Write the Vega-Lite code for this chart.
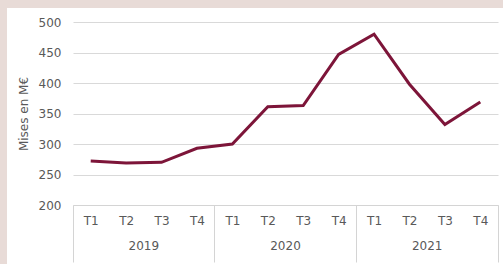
{
  "$schema": "https://vega.github.io/schema/vega-lite/v6.json",
  "width": 496,
  "height": 256,
  "autosize": {"type": "none"},
  "padding": {"left": 7, "top": 8, "right": 0, "bottom": 0},
  "background": "#e8dbd7",
  "config": {
    "view": {"fill": "white", "stroke": null},
    "font": "DejaVu Sans",
    "axis": {"labelFont": "DejaVu Sans", "titleFont": "DejaVu Sans", "labelColor": "#595959", "titleColor": "#595959", "labelFontSize": 12, "titleFontSize": 12, "titleFontWeight": "normal"}
  },
  "data": {
    "values": [
      {"q": "2019-T1", "annee": "2019", "v": 272},
      {"q": "2019-T2", "annee": "2019", "v": 269},
      {"q": "2019-T3", "annee": "2019", "v": 270},
      {"q": "2019-T4", "annee": "2019", "v": 293},
      {"q": "2020-T1", "annee": "2020", "v": 300},
      {"q": "2020-T2", "annee": "2020", "v": 361},
      {"q": "2020-T3", "annee": "2020", "v": 363},
      {"q": "2020-T4", "annee": "2020", "v": 447},
      {"q": "2021-T1", "annee": "2021", "v": 480},
      {"q": "2021-T2", "annee": "2021", "v": 398},
      {"q": "2021-T3", "annee": "2021", "v": 332},
      {"q": "2021-T4", "annee": "2021", "v": 369}
    ]
  },
  "layer": [
    {
      "mark": {"type": "point", "opacity": 0},
      "encoding": {
        "x": {
          "field": "annee", "type": "ordinal",
          "scale": {"type": "band", "range": [66, 491], "paddingInner": 0, "paddingOuter": 0},
          "axis": {
            "orient": "bottom", "offset": -59, "title": null, "domain": false, "grid": false,
            "ticks": true, "bandPosition": 1, "tickExtra": true, "tickSize": 57, "tickColor": "#d4d4d4", "tickWidth": 1,
            "labelPadding": -22, "labelAngle": 0
          }
        },
        "y": {
          "field": "v", "type": "quantitative",
          "scale": {"domain": [200, 500], "range": [197, 14], "zero": false, "nice": false}
        }
      }
    },
    {
      "mark": {"type": "line", "color": "#7d1539", "strokeWidth": 3},
      "encoding": {
        "x": {
          "field": "q", "type": "ordinal",
          "scale": {"type": "point", "range": [66, 491], "padding": 0.5},
          "axis": {
            "orient": "bottom", "offset": -59, "title": null, "grid": false,
            "domain": true, "domainColor": "#d4d4d4", "domainWidth": 1,
            "ticks": false, "tickSize": 0, "labelPadding": 10, "labelAngle": 0,
            "labelExpr": "slice(datum.value, 5)"
          }
        },
        "y": {
          "field": "v", "type": "quantitative",
          "scale": {"domain": [200, 500], "range": [197, 14], "zero": false, "nice": false},
          "axis": {
            "orient": "left", "offset": -66, "title": "Mises en M€", "values": [200, 250, 300, 350, 400, 450, 500],
            "domain": false, "ticks": false, "tickSize": 0, "labelPadding": 12,
            "grid": true, "gridColor": "#d9d9d9", "gridWidth": 1, "titlePadding": 8
          }
        }
      }
    }
  ],
  "resolve": {"scale": {"x": "independent"}, "axis": {"x": "independent"}}
}
